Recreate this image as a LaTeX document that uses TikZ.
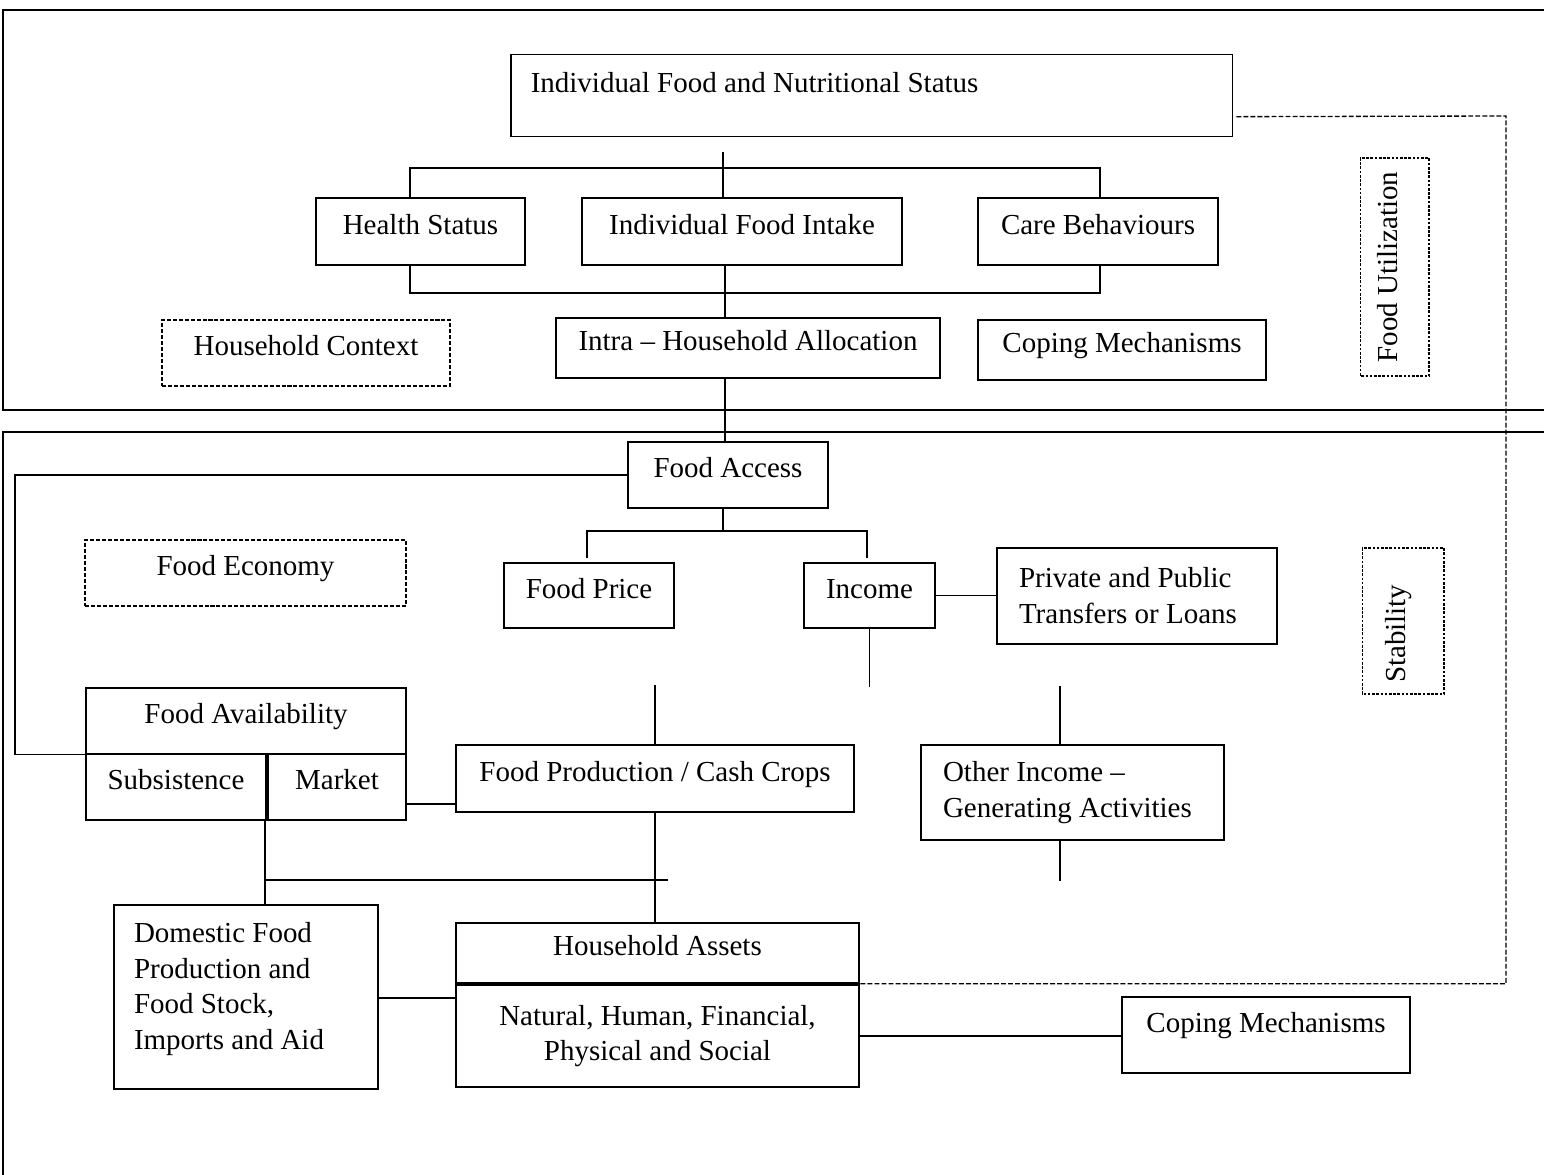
\documentclass[tikz,border=0pt]{standalone}
\usepackage{fontspec}
\setmainfont{Liberation Serif}

\begin{document}
\begin{tikzpicture}[x=0.02cm, y=-0.02cm, font=\fontsize{16.5}{20.4}\selectfont,
  box/.style={draw, line width=0.85pt, inner sep=0pt, text height=0.66em, text depth=0.36em},
  dbox/.style={box, dash pattern=on 2.3pt off 1.1pt},
  sbox/.style={box, line width=0.6pt, dash pattern=on 1.5pt off 0.9pt},
  tbox/.style={draw, line width=0.85pt, inner ysep=0pt, align=flush left},
  frame/.style={line width=1.1pt},
  link/.style={line width=0.75pt},
  dline/.style={line width=0.75pt, dash pattern=on 2.8pt off 1.2pt}]
  \useasboundingbox (0,0) rectangle (1544,1175);
  % draw the two frames
  \draw[frame] (1544,10) -- (3,10) -- (3,410) -- (1544,410);
  \draw[frame] (1544,432) -- (3,432) -- (3,1175);
%
  % draw upper part: food utilization
  \node[draw, line width=0.85pt, anchor=north west, inner xsep=0.4cm, inner ysep=0pt, text width=13.64cm,
        align=flush left, text height=21.6pt, text depth=25pt] (status) at (510,54) {Individual Food and Nutritional Status};
  \node[box, minimum width=4.18cm, minimum height=1.34cm] (health) at (420.5,231.5) {Health Status};
  \node[box, minimum width=6.4cm, minimum height=1.34cm] (intake) at (742,231.5) {Individual Food Intake};
  \node[box, minimum width=4.8cm, minimum height=1.34cm] (care) at (1098,231.5) {Care Behaviours};
  \node[dbox, minimum width=5.76cm, minimum height=1.32cm] (context) at (306,353) {Household Context};
  \node[box, minimum width=7.68cm, minimum height=1.2cm] (intra) at (748,348) {Intra -- Household Allocation};
  \node[box, minimum width=5.76cm, minimum height=1.2cm] (copeup) at (1122,350) {Coping Mechanisms};
  \node[sbox, rotate=90, minimum width=4.36cm, minimum height=1.38cm] (util) at (1394.5,267) {Food Utilization};
%
  % draw lower part: food economy
  \node[box, minimum width=4cm, minimum height=1.32cm] (access) at (728,475) {Food Access};
  \node[box, minimum width=3.4cm, minimum height=1.3cm] (price) at (589,595.5) {Food Price};
  \node[box, minimum width=2.62cm, minimum height=1.3cm] (income) at (869.5,595.5) {Income};
  \node[tbox, text width=4.72cm, inner xsep=0.44cm, minimum height=1.92cm] (transfer) at (1137,596) {Private and Public\\Transfers or Loans};
  \node[dbox, minimum width=6.42cm, minimum height=1.32cm] (economy) at (245.5,573) {Food Economy};
  \node[sbox, rotate=90, inner xsep=0.22cm, text width=2.48cm, align=flush left, minimum height=1.64cm] (stab) at (1403,621) {Stability};
  \node[box, minimum width=6.4cm, minimum height=1.32cm] (avail) at (246,721) {Food Availability};
  \node[box, minimum width=3.6cm, minimum height=1.32cm] (subsist) at (176,787) {Subsistence};
  \node[box, minimum width=2.76cm, minimum height=1.32cm] (market) at (337,787) {Market};
  \node[box, minimum width=7.96cm, minimum height=1.34cm] (prod) at (655,778.5) {Food Production / Cash Crops};
  \node[tbox, text width=5.18cm, inner xsep=0.44cm, minimum height=1.9cm] (other) at (1072.5,792.5) {Other Income --\\Generating Activities};
  \node[tbox, text width=4.48cm, inner xsep=0.4cm, minimum height=3.68cm] (domestic) at (246,997) {Domestic Food\\Production and\\Food Stock,\\Imports and Aid\rule[-12.6pt]{0pt}{12.6pt}};
  \node[box, minimum width=8.06cm, minimum height=1.2cm] (assets) at (657.5,953) {Household Assets};
  \node[tbox, align=flush center, minimum width=8.06cm, minimum height=2.04cm] (capital) at (657.5,1036) {Natural, Human, Financial,\\Physical and Social};
  \node[box, minimum width=5.76cm, text height=20.5pt, text depth=22.8pt] (copedown) at (1266,1035) {Coping Mechanisms};
%
  % draw connectors of the upper part
  \coordinate (topjoin) at (723,152);
  \coordinate (upL) at (410,168);
  \coordinate (upR) at (1100,168);
  \coordinate (lowL) at (410,293);
  \coordinate (lowR) at (1100,293);
  \coordinate (mid) at (725,293);
  \draw[link] (topjoin) -- (topjoin |- intake.north);
  \draw[link] (upL |- health.north) -- (upL) -- (upR) -- (upR |- care.north);
  \draw[link] (lowL |- health.south) -- (lowL) -- (lowR) -- (lowR |- care.south);
  \draw[link] (mid |- intake.south) -- (mid |- intra.north);
  \draw[link] (mid |- intra.south) -- (mid |- access.north);
    % draw the dashed loop on the right
  \coordinate (dashTR) at (1506,116);
  \draw[dline] ([shift={(3,21)}]status.east) -- (dashTR) -- (dashTR |- assets.south east) -- (assets.south east);
%
  % draw connectors of the lower part
  \coordinate (accjoin) at (723,531);
  \coordinate (leftrun) at (15,476);
  \draw[link] (accjoin |- access.south) -- (accjoin);
  \draw[link] (587,558) |- (accjoin) -| (867,558);
  \draw[link] (access.west) -- (access.west -| leftrun) -- (leftrun |- avail.south west) -- (avail.south west);
  \draw[link] (income.east) -- (income.east -| transfer.west);
  \draw[link] (income.south) -- ++(0,58);
  \draw[link] (prod.north) -- ++(0,-59);
  \coordinate (oi) at (1060,686);
  \draw[link] (oi) -- (oi |- other.north);
  \draw[link] (oi |- other.south) -- ++(0,40);
  \coordinate (mp) at (431,804);
  \draw[link] (mp -| market.east) -- (mp -| prod.west);
  \coordinate (sm) at (265,880);
  \draw[link] (sm |- subsist.south) -- (sm |- domestic.north);
  \draw[link] (sm) -- (668,880);
  \draw[link] (prod.south) -- (prod.south |- assets.north);
  \coordinate (da) at (417,998);
  \draw[link] (da -| domestic.east) -- (da -| assets.west);
  \draw[link] (capital.east) -- (capital.east -| copedown.west);
\end{tikzpicture}
\end{document}
